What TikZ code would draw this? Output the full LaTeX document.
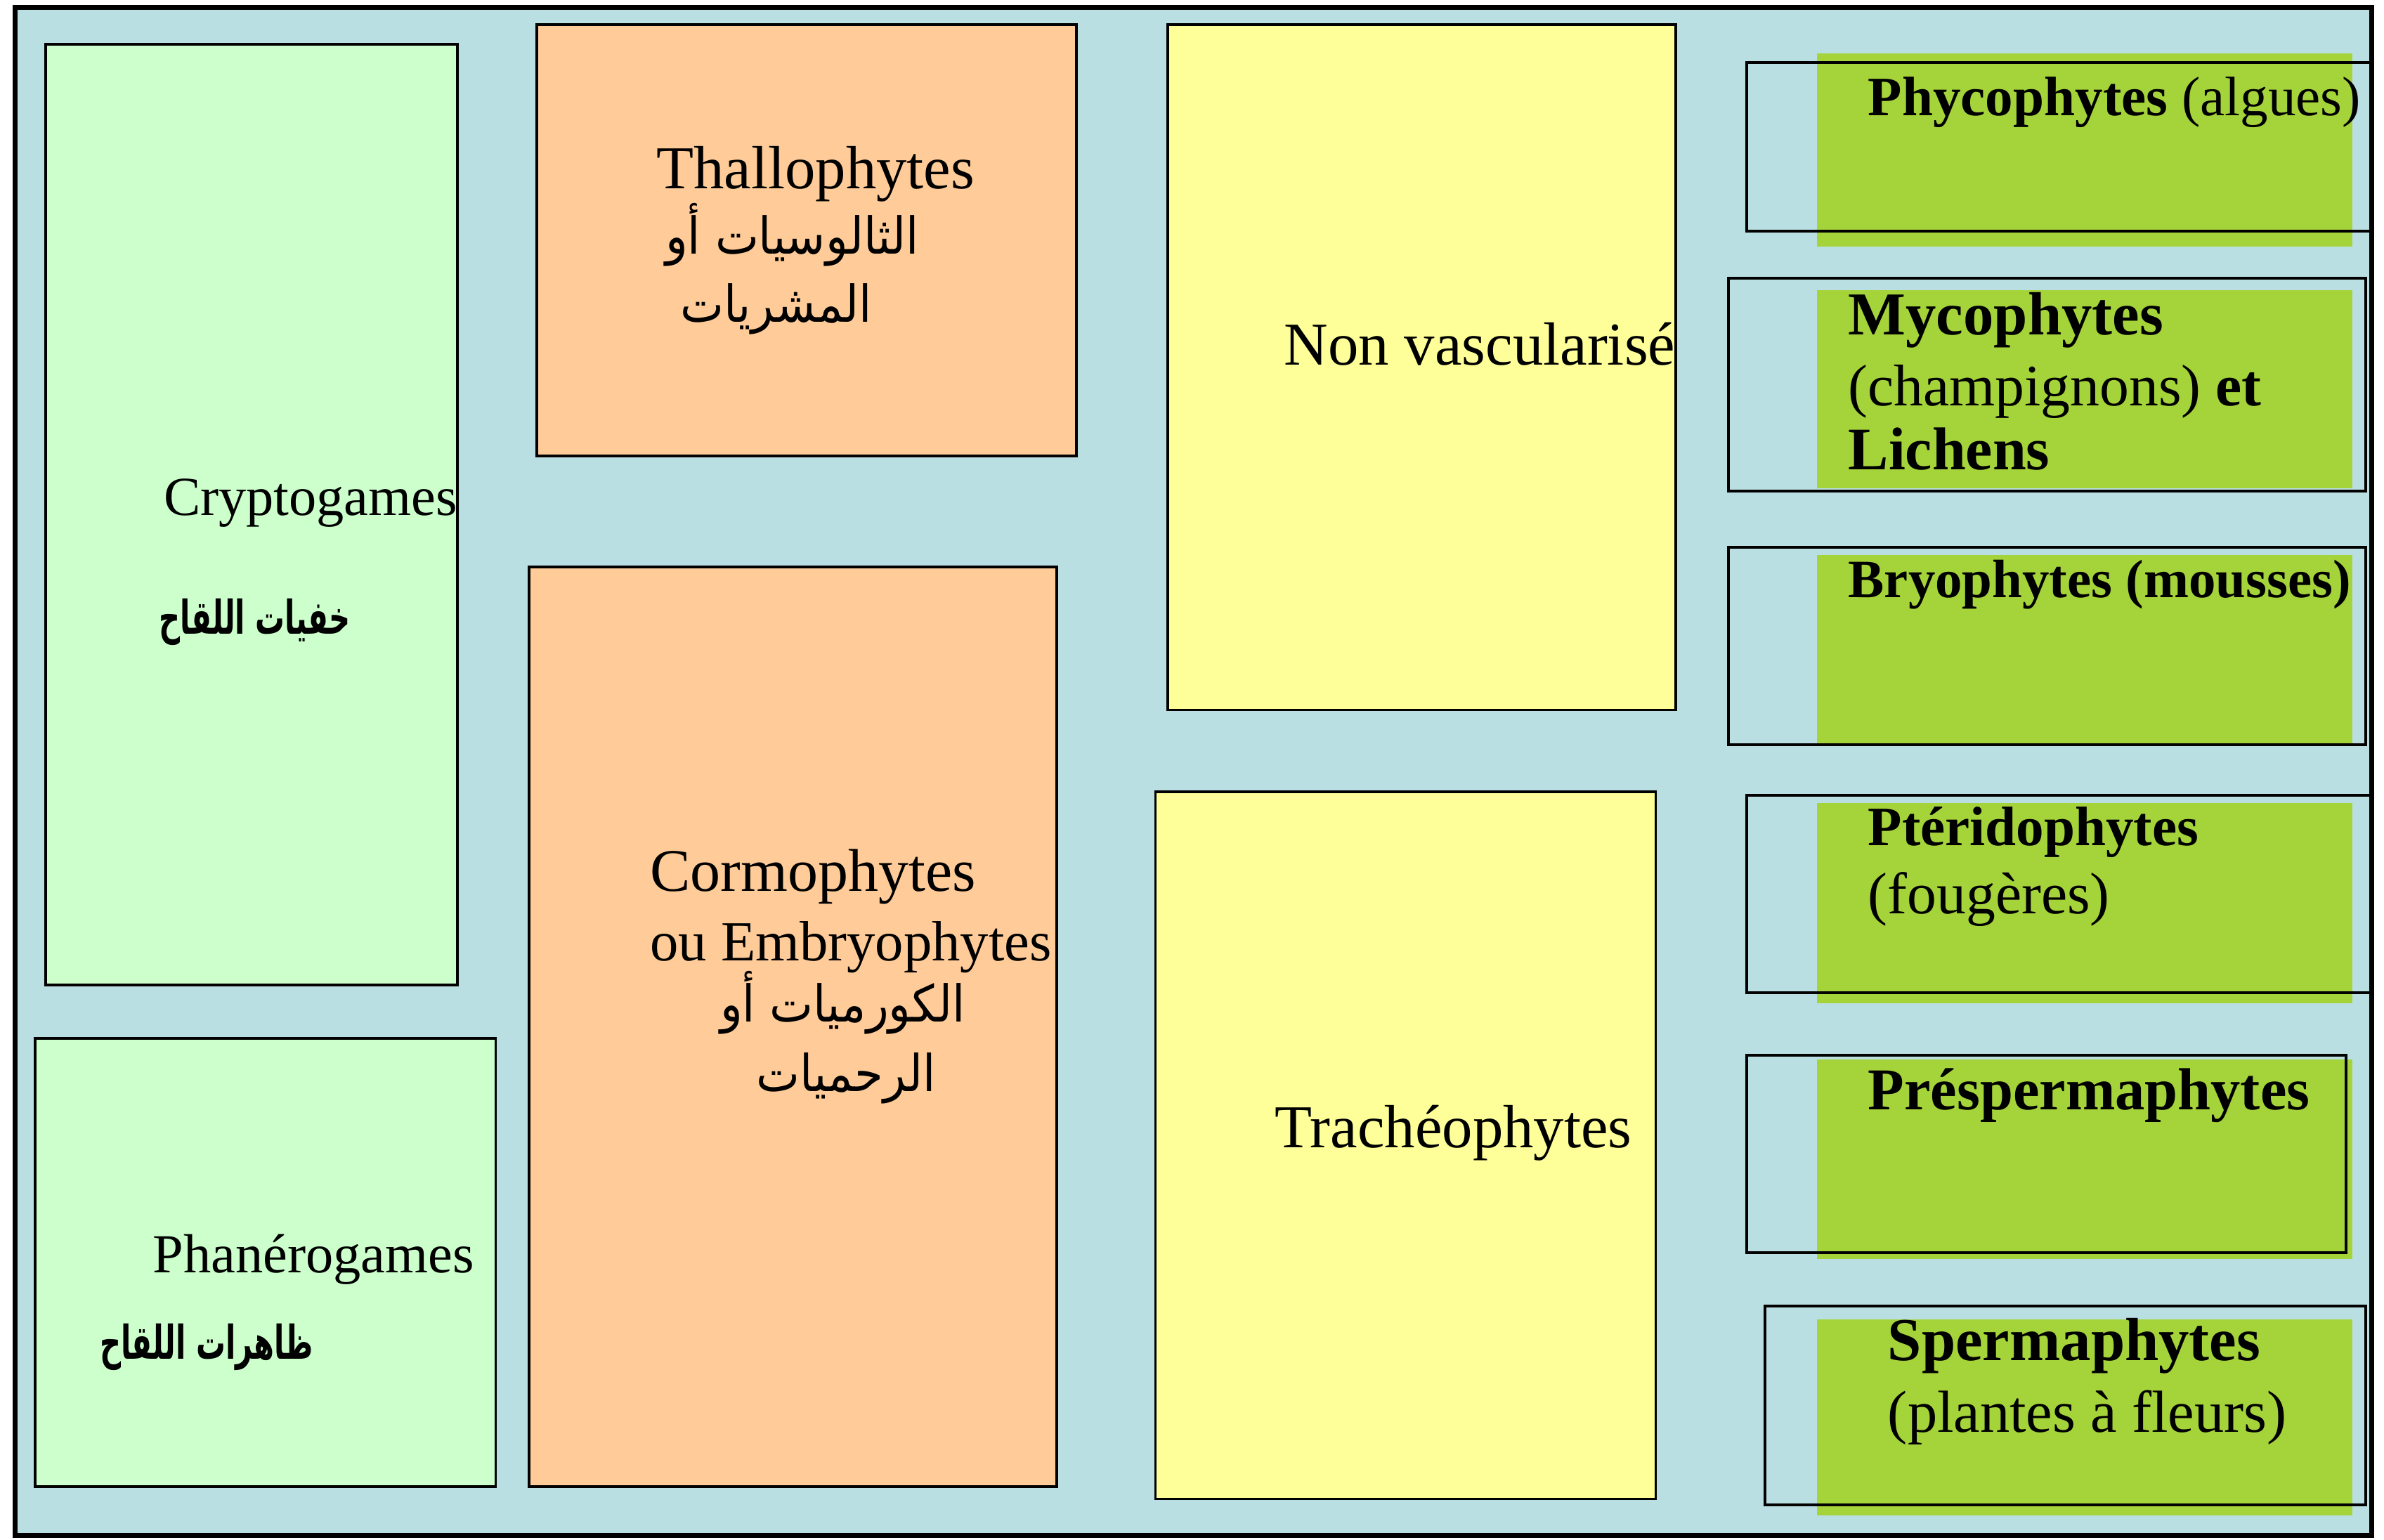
\documentclass[tikz,border=0pt]{standalone}
\usepackage{fontspec}
\setmainfont{Liberation Serif}
\newfontfamily\arabicfont[Script=Arabic, FakeStretch=0.91]{DejaVu Sans}
\newfontfamily\arabicbfont[Script=Arabic, FakeStretch=0.63]{DejaVu Sans}
\TeXXeTstate=1
\usetikzlibrary{fit}
\definecolor{bgblue}{RGB}{186,223,227}
\definecolor{palegreen}{RGB}{204,255,204}
\definecolor{peach}{RGB}{255,204,153}
\definecolor{paleyellow}{RGB}{255,255,153}
\definecolor{lime}{RGB}{165,212,58}
\tikzset{
  box/.style={draw, line width=0.5pt, inner sep=0pt},
  green/.style={fill=lime, inner sep=0pt},
  lbl/.style={anchor=base west, inner sep=0pt, font=\fontsize{11.3}{13}\selectfont},
  small/.style={lbl, font=\fontsize{10.3}{13}\selectfont},
  artxt/.style={anchor=base west, inner sep=0pt, font=\fontsize{9.5}{12}\selectfont\arabicfont},
  arbold/.style={anchor=base west, inner sep=0pt, font=\fontsize{8.7}{12}\selectfont\arabicbfont\bfseries},
}

\begin{document}
\begin{tikzpicture}[x=0.01cm, y=-0.01cm]
  \useasboundingbox (0,0) rectangle (1568,1013);
  \draw[fill=bgblue, line width=0.9pt] (10,5) rectangle (1560,1010);

  % left column
  \node[box, fill=palegreen, fit={(30,29) (301,648)}] (crypto) {};
  \node[small] (cryptoL) at (107,339) {Cryptogames};
  \node[arbold] (cryptoA) at (104,417) {\beginR خفيات اللقاح\endR};
  \node[box, fill=palegreen, fit={(23,683) (326,978)}] (phanero) {};
  \node[small] (phaneroL) at (100,837) {Phanérogames};
  \node[arbold] (phaneroA) at (65,894) {\beginR ظاهرات اللقاح\endR};

  % second column
  \node[box, fill=peach, fit={(353,16) (708,300)}] (thallo) {};
  \node[lbl, font=\fontsize{11.4}{13}\selectfont] (thalloL) at (431,124) {Thallophytes};
  \node[artxt] (thalloA) at (437,167) {\beginR الثالوسيات أو\endR};
  \node[artxt] (thalloB) at (447,212) {\beginR المشريات\endR};
  \node[box, fill=peach, fit={(348,373) (695,978)}] (cormo) {};
  \node[lbl] (cormoL) at (427,586) {Cormophytes};
  \node[lbl, font=\fontsize{10.6}{13}\selectfont] (cormoM) at (427,632) {ou Embryophytes};
  \node[artxt] (cormoA) at (473,672) {\beginR الكورميات أو\endR};
  \node[artxt] (cormoB) at (497,718) {\beginR الرحميات\endR};

  % third column
  \node[box, fill=paleyellow, fit={(768,16) (1102,467)}] (nonvasc) {};
  \node[lbl, font=\fontsize{11.4}{13}\selectfont] (nonvascL) at (844,240) {Non vascularisé};
  \node[box, fill=paleyellow, fit={(760,521) (1089,986)}] (tracheo) {};
  \node[lbl, font=\fontsize{11.4}{13}\selectfont] (tracheoL) at (838,755) {Trachéophytes};

  % right column: green patch, frame on top
  \node[green, fit={(1195,35) (1547,162)}] (phycoG) {};
  \node[box, fit={(1149,41) (1560,152)}] (phyco) {};
  \node[lbl, font=\fontsize{10.4}{13}\selectfont] (phycoL) at (1228,76) {\textbf{Phycophytes} (algues)};

  \node[green, fit={(1195,191) (1547,321)}] (mycoG) {};
  \node[box, fit={(1137,183) (1556,323)}] (myco) {};
  \node[lbl, font=\fontsize{11.4}{13}\selectfont] (mycoL) at (1215,220) {\textbf{Mycophytes}};
  \node[lbl, font=\fontsize{11}{13}\selectfont] (mycoM) at (1215,267) {(champignons) \textbf{et}};
  \node[lbl] (mycoN) at (1215,309) {\textbf{Lichens}};

  \node[green, fit={(1195,365) (1547,490)}] (bryoG) {};
  \node[box, fit={(1137,360) (1556,490)}] (bryo) {};
  \node[lbl, font=\fontsize{10.1}{13}\selectfont] (bryoL) at (1215,393) {\textbf{Bryophytes (mousses)}};

  \node[green, fit={(1195,528) (1547,660)}] (pteriG) {};
  \node[box, fit={(1149,523) (1560,653)}] (pteri) {};
  \node[lbl, font=\fontsize{10.4}{13}\selectfont] (pteriL) at (1228,556) {\textbf{Ptéridophytes}};
  \node[lbl, font=\fontsize{11}{13}\selectfont] (pteriM) at (1228,601) {(fougères)};

  \node[green, fit={(1195,697) (1547,828)}] (prespG) {};
  \node[box, fit={(1149,694) (1543,824)}] (presp) {};
  \node[lbl, font=\fontsize{11.1}{13}\selectfont] (prespL) at (1228,730) {\textbf{Préspermaphytes}};

  \node[green, fit={(1195,868) (1547,997)}] (spermG) {};
  \node[box, fit={(1161,859) (1556,990)}] (sperm) {};
  \node[lbl, font=\fontsize{11.4}{13}\selectfont] (spermL) at (1241,895) {\textbf{Spermaphytes}};
  \node[lbl, font=\fontsize{11.1}{13}\selectfont] (spermM) at (1241,942) {(plantes à fleurs)};
\end{tikzpicture}
\end{document}
